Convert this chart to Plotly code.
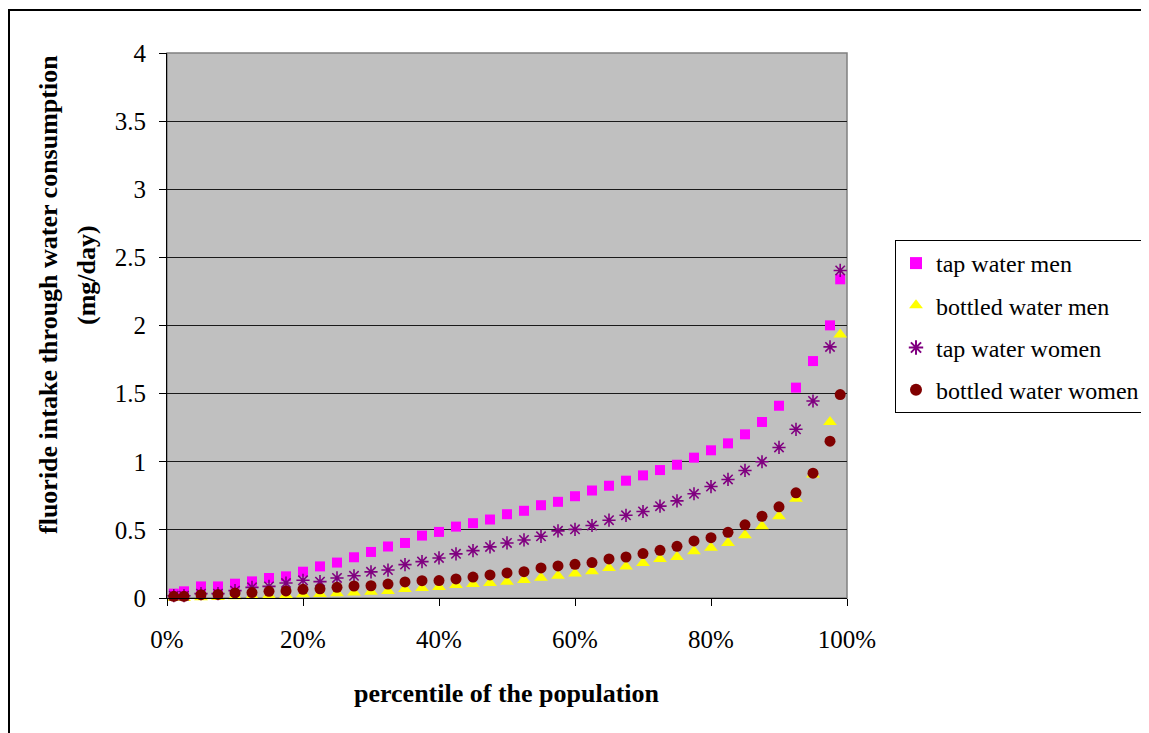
import plotly.graph_objects as go

percentile = [1, 2.5, 5, 7.5, 10, 12.5, 15, 17.5, 20, 22.5, 25, 27.5, 30, 32.5, 35, 37.5,
              40, 42.5, 45, 47.5, 50, 52.5, 55, 57.5, 60, 62.5, 65, 67.5, 70, 72.5, 75,
              77.5, 80, 82.5, 85, 87.5, 90, 92.5, 95, 97.5, 99]

tap_men = [0.032, 0.049, 0.085, 0.085, 0.105, 0.122, 0.147, 0.159, 0.193, 0.232, 0.26,
           0.299, 0.338, 0.378, 0.404, 0.458, 0.485, 0.524, 0.549, 0.576, 0.615, 0.640,
           0.681, 0.706, 0.747, 0.789, 0.824, 0.861, 0.900, 0.939, 0.978, 1.030, 1.084,
           1.135, 1.201, 1.292, 1.411, 1.544, 1.739, 2.001, 2.339]

bottled_men = [0.0, 0.0, 0.005, 0.008, 0.012, 0.015, 0.02, 0.022, 0.027, 0.03, 0.035,
               0.04, 0.045, 0.052, 0.066, 0.074, 0.081, 0.096, 0.103, 0.110, 0.120, 0.132,
               0.149, 0.164, 0.179, 0.196, 0.221, 0.232, 0.257, 0.287, 0.301, 0.343, 0.368,
               0.404, 0.46, 0.526, 0.6, 0.728, 0.907, 1.291, 1.934]

tap_women = [0.017, 0.017, 0.032, 0.032, 0.054, 0.078, 0.085, 0.110, 0.13, 0.12, 0.147,
             0.163, 0.192, 0.205, 0.245, 0.267, 0.294, 0.324, 0.348, 0.375, 0.404, 0.426,
             0.453, 0.493, 0.504, 0.532, 0.571, 0.607, 0.635, 0.674, 0.713, 0.765, 0.818,
             0.870, 0.936, 1.0, 1.105, 1.238, 1.446, 1.843, 2.404]

bottled_women = [0.012, 0.012, 0.024, 0.026, 0.037, 0.04, 0.049, 0.052, 0.064, 0.067, 0.078,
                 0.088, 0.09, 0.102, 0.118, 0.127, 0.128, 0.14, 0.154, 0.169, 0.184, 0.193,
                 0.221, 0.235, 0.247, 0.26, 0.287, 0.301, 0.326, 0.35, 0.379, 0.419, 0.443,
                 0.482, 0.537, 0.6, 0.669, 0.772, 0.916, 1.151, 1.493]

series_names = ["tap water men", "bottled water men", "tap water women", "bottled water women"]
x_ticks = [0, 20, 40, 60, 80, 100]
x_tick_labels = ["0%", "20%", "40%", "60%", "80%", "100%"]

FONT = "Liberation Serif, Times New Roman, serif"

fig = go.Figure()

fig.add_trace(go.Scatter(x=percentile, y=tap_men, mode="markers", name=series_names[0],
                         legendgroup="a",
                         marker=dict(symbol="square", size=10, color="#FF00FF"),
                         cliponaxis=False))
fig.add_trace(go.Scatter(x=percentile, y=bottled_men, mode="markers", name=series_names[1],
                         legendgroup="b",
                         marker=dict(symbol="triangle-up", size=12, color="#FFFF00"),
                         cliponaxis=False))
fig.add_trace(go.Scatter(x=percentile, y=tap_women, mode="markers", name=series_names[2],
                         legendgroup="c",
                         marker=dict(symbol="asterisk-open", size=11,
                                     line=dict(color="#800080", width=1.6), color="#800080"),
                         cliponaxis=False))
fig.add_trace(go.Scatter(x=percentile, y=bottled_women, mode="markers", name=series_names[3],
                         legendgroup="d",
                         marker=dict(symbol="circle", size=11, color="#800000"),
                         cliponaxis=False))

# page has an 8px body margin; positions below are page pixels, converted to figure pixels
OFF = 8
W, H = 1149 - OFF, 733 - OFF
L, R, T, B = 167 - OFF, 847 - OFF, 53 - OFF, 598 - OFF
pw, ph = R - L, B - T

def px(xp):
    return (xp - OFF - L) / pw

def py(yp):
    return (B - (yp - OFF)) / ph

fig.update_layout(
    width=W, height=H,
    margin=dict(l=L, r=W - R, t=T, b=H - B, autoexpand=False),
    paper_bgcolor="white",
    plot_bgcolor="#C0C0C0",
    font=dict(family=FONT, size=25, color="black"),
    showlegend=True,
    legend=dict(x=px(895), y=py(240), xanchor="left", yanchor="top",
                bgcolor="white", bordercolor="black", borderwidth=1,
                font=dict(family=FONT, size=24, color="black"),
                tracegroupgap=8, traceorder="grouped",
                itemsizing="constant"),
    xaxis=dict(range=[0, 100], tickvals=x_ticks, ticktext=x_tick_labels,
               showgrid=False, zeroline=False, showline=True, linecolor="black",
               linewidth=1, ticks="outside", ticklen=7, tickcolor="black",
               ticklabelstandoff=12,
               tickfont=dict(family=FONT, size=25, color="black")),
    yaxis=dict(range=[0, 4], dtick=0.5, tick0=0, showgrid=True, gridcolor="#1a1a1a",
               gridwidth=1, zeroline=False, showline=True, linecolor="black",
               linewidth=1, ticks="outside", ticklen=7, tickcolor="black",
               ticklabelstandoff=8,
               tickfont=dict(family=FONT, size=25, color="black")),
    shapes=[
        dict(type="rect", xref="paper", yref="paper", x0=0, x1=1, y0=0, y1=1,
             line=dict(color="#808080", width=1.5), layer="below"),
        dict(type="rect", xref="paper", yref="paper", x0=px(9), x1=px(1200),
             y0=py(760), y1=py(10), line=dict(color="black", width=2), layer="above"),
    ],
    annotations=[
        dict(text="<b>fluoride intake through water consumption</b>", xref="paper",
             yref="paper", x=px(48), y=py(295), textangle=-90, showarrow=False,
             xanchor="center", yanchor="middle",
             font=dict(family=FONT, size=26, color="black")),
        dict(text="<b>(mg/day)</b>", xref="paper", yref="paper", x=px(86), y=py(275),
             textangle=-90, showarrow=False, xanchor="center", yanchor="middle",
             font=dict(family=FONT, size=26, color="black")),
        dict(text="<b>percentile of the population</b>", xref="paper", yref="paper",
             x=px(507), y=py(693), showarrow=False, xanchor="center", yanchor="middle",
             font=dict(family=FONT, size=26, color="black")),
    ],
)

fig.write_html("out.html")
